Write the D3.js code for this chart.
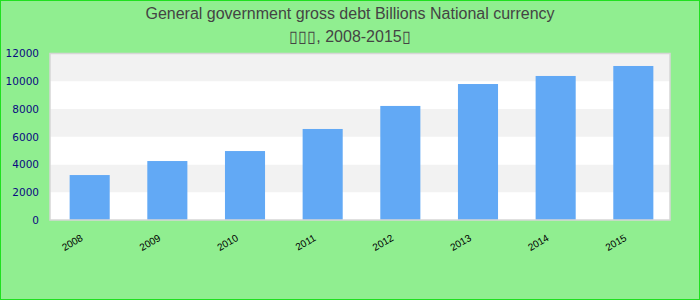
<!DOCTYPE html>
<html>
<head>
<meta charset="utf-8">
<script src="https://cdn.jsdelivr.net/npm/d3@7"></script>
<style>
  html, body { margin: 0; padding: 0; background: #90ee90; }
  svg { display: block; }
</style>
</head>
<body>
<svg id="chart" width="700" height="300"></svg>
<script>
const titleLines = ["General government gross debt Billions National currency", "\u25AF\u25AF\u25AF, 2008-2015\u25AF"];
const categories = ["2008", "2009", "2010", "2011", "2012", "2013", "2014", "2015"];
const values = [3240, 4250, 4970, 6560, 8220, 9800, 10380, 11100];
const yTicks = [0, 2000, 4000, 6000, 8000, 10000, 12000];

const W = 700, H = 300;
const plot = { left: 50, right: 670, top: 53.5, bottom: 220 };

const svg = d3.select("#chart");

// background + outer border
svg.append("rect").attr("x", 0.5).attr("y", 0.5).attr("width", W - 1).attr("height", H - 1)
  .attr("fill", "#90ee90").attr("stroke", "#1fe01f").attr("stroke-width", 1);

// title
svg.append("text").attr("x", 350).attr("y", 18.5).attr("text-anchor", "middle")
  .attr("font-family", "Liberation Sans, Arial, sans-serif").attr("font-size", 16)
  .attr("fill", "#444").text(titleLines[0]);
svg.append("text").attr("x", 350).attr("y", 42).attr("text-anchor", "middle")
  .attr("font-family", "Liberation Sans, Arial, sans-serif").attr("font-size", 16)
  .attr("fill", "#444").text(titleLines[1]);

const x = d3.scaleBand().domain(categories).range([plot.left + 1, plot.right + 2])
  .paddingInner(0.484).paddingOuter(0.24);
const y = d3.scaleLinear().domain([0, 12000]).range([plot.bottom, plot.top]);

// plot background
svg.append("rect").attr("x", plot.left).attr("y", plot.top)
  .attr("width", plot.right - plot.left).attr("height", plot.bottom - plot.top)
  .attr("fill", "#fff");

// alternating bands
const bands = d3.pairs(yTicks);
svg.append("g").selectAll("rect").data(bands).join("rect")
  .attr("x", plot.left).attr("width", plot.right - plot.left)
  .attr("y", d => y(d[1])).attr("height", d => y(d[0]) - y(d[1]))
  .attr("fill", (d, i) => i % 2 === 1 ? "#f2f2f2" : "#ffffff");

// bars
svg.append("g").selectAll("rect").data(values).join("rect")
  .attr("x", (d, i) => x(categories[i])).attr("width", x.bandwidth())
  .attr("y", d => y(d)).attr("height", d => y(0) - y(d))
  .attr("fill", "#62a9f5");

// plot border
svg.append("rect").attr("x", plot.left).attr("y", plot.top)
  .attr("width", plot.right - plot.left).attr("height", plot.bottom - plot.top)
  .attr("fill", "none").attr("stroke", "#d6d6d6").attr("stroke-width", 1.5);

// y axis
const yAxis = d3.axisLeft(y).tickValues(yTicks).tickSize(0).tickPadding(11).tickFormat(d3.format("d"));
const gy = svg.append("g").attr("transform", `translate(${plot.left},0)`).call(yAxis);
gy.select(".domain").remove();
gy.selectAll("text").attr("font-family", "DejaVu Sans, Verdana, sans-serif")
  .attr("font-size", 10.5).attr("fill", "#0a0a80");

// x axis
const xAxis = d3.axisBottom(x).tickSize(0).tickPadding(0);
const gx = svg.append("g").attr("transform", `translate(0,${plot.bottom})`).call(xAxis);
gx.select(".domain").remove();
gx.selectAll("text")
  .attr("font-family", "Liberation Sans, Arial, sans-serif").attr("font-size", 10)
  .attr("fill", "#000").attr("text-anchor", "end")
  .attr("dy", 0).attr("y", 0)
  .attr("transform", "translate(-6,20) rotate(-30)");
</script>
</body>
</html>
